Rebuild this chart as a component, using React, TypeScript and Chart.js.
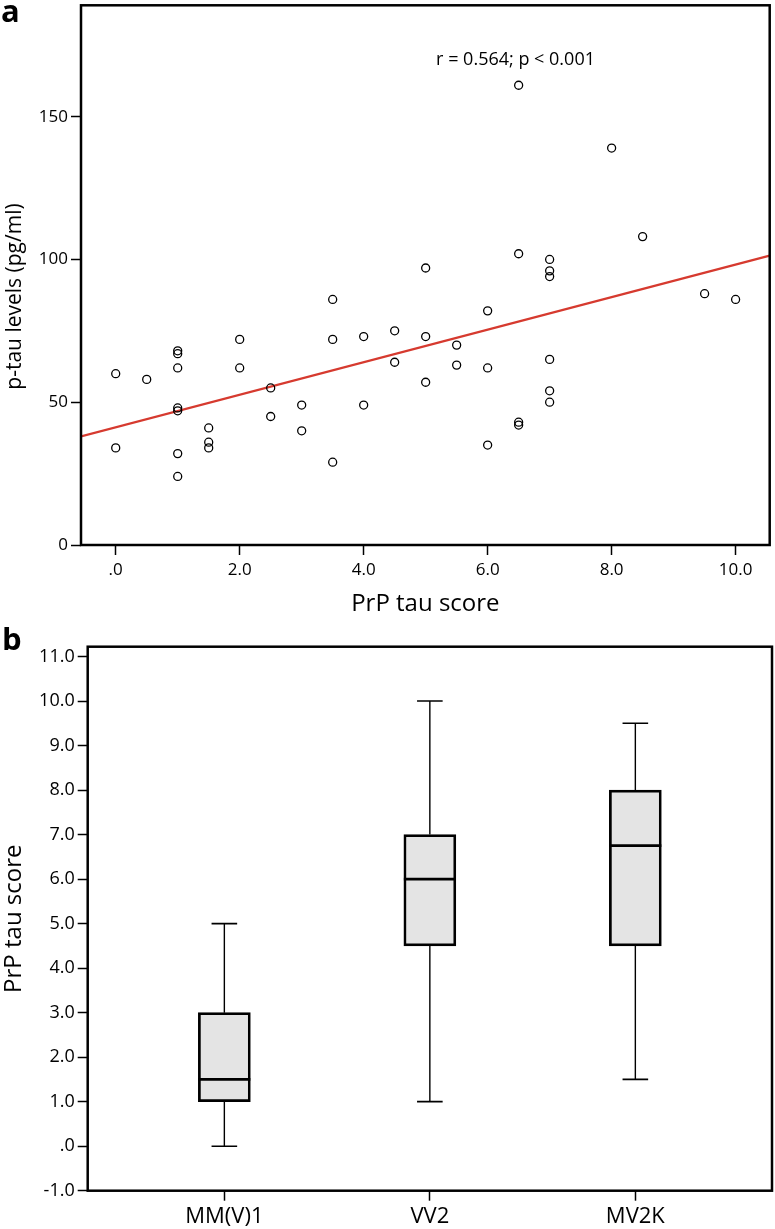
import React, { useEffect, useRef } from "react";
import { Chart, registerables } from "chart.js";

Chart.register(...registerables);

const FONT = "'Open Sans', 'Noto Sans', sans-serif";

// ---------- Panel a: scatter ----------
const prpTauScore = [
  0, 0, 0.5, 1, 1, 1, 1, 1, 1, 1, 1.5, 1.5, 1.5, 2, 2, 2.5, 2.5, 3, 3, 3.5, 3.5, 3.5,
  4, 4, 4.5, 4.5, 5, 5, 5, 5.5, 5.5, 6, 6, 6, 6.5, 6.5, 6.5, 6.5, 7, 7, 7, 7, 7, 7,
  8, 8.5, 9.5, 10,
];
const pTauLevels = [
  60, 34, 58, 68, 67, 62, 48, 47, 32, 24, 41, 36, 34, 72, 62, 55, 45, 49, 40, 86, 72, 29,
  73, 49, 75, 64, 97, 73, 57, 70, 63, 82, 62, 35, 161, 102, 43, 42, 100, 96, 94, 65, 54, 50,
  139, 108, 88, 86,
];
const fitIntercept = 41.2;
const fitSlope = 5.7;
const scatterXRange = [-0.56, 10.55];
const scatterYRange = [0, 189];
const scatterXTicks = [0, 2, 4, 6, 8, 10];
const scatterXTickLabels = [".0", "2.0", "4.0", "6.0", "8.0", "10.0"];
const scatterYTicks = [0, 50, 100, 150];
const scatterYTickLabels = ["0", "50", "100", "150"];
const scatterXTitle = "PrP tau score";
const scatterYTitle = "p-tau levels (pg/ml)";
const annotationText = "r = 0.564; p < 0.001";
const annotationAt = [6.45, 168];

// ---------- Panel b: box plot ----------
const genotypes = ["MM(V)1", "VV2", "MV2K"];
const whiskerLow = [0, 1, 1.5];
const boxQ1 = [1, 4.5, 4.5];
const boxMedian = [1.5, 6, 6.75];
const boxQ3 = [3, 7, 8];
const whiskerHigh = [5, 10, 9.5];
const boxXRange = [-0.665, 2.665];
const boxYRange = [-1, 11.22];
const boxYTicks = [-1, 0, 1, 2, 3, 4, 5, 6, 7, 8, 9, 10, 11];
const boxYTickLabels = ["-1.0", ".0", "1.0", "2.0", "3.0", "4.0", "5.0", "6.0", "7.0", "8.0", "9.0", "10.0", "11.0"];
const boxYTitle = "PrP tau score";

const tickGrid = {
  display: true,
  drawOnChartArea: false,
  drawTicks: true,
  tickLength: 10,
  tickWidth: 1.5,
  tickColor: "#000",
};

function zeroPad(s: any) {
  s.paddingTop = 0;
  s.paddingBottom = 0;
  s.paddingLeft = 0;
  s.paddingRight = 0;
}

const scatterDecor = {
  id: "scatterDecor",
  afterDraw(chart: any) {
    const { ctx, chartArea, scales } = chart;
    const { left, top, right, bottom } = chartArea;
    ctx.save();
    ctx.strokeStyle = "#000";
    ctx.lineWidth = 2.5;
    ctx.strokeRect(left, top, right - left, bottom - top);
    ctx.fillStyle = "#000";
    ctx.textBaseline = "alphabetic";
    ctx.textAlign = "center";
    ctx.font = `18px ${FONT}`;
    ctx.fillText(
      annotationText,
      scales.x.getPixelForValue(annotationAt[0]),
      scales.y.getPixelForValue(annotationAt[1])
    );
    ctx.font = `24px ${FONT}`;
    ctx.fillText(scatterXTitle, (left + right) / 2, 611);
    ctx.save();
    ctx.translate(21, 296.5);
    ctx.rotate(-Math.PI / 2);
    ctx.font = `21px ${FONT}`;
    ctx.fillText(scatterYTitle, 0, 0);
    ctx.restore();
    ctx.textAlign = "left";
    ctx.font = `bold 31px ${FONT}`;
    ctx.fillText("a", 1, 22);
    ctx.restore();
  },
};

const boxDecor = {
  id: "boxDecor",
  afterDatasetsDraw(chart: any) {
    const { ctx, scales } = chart;
    const x = scales.x;
    const y = scales.y;
    ctx.save();
    ctx.strokeStyle = "#000";
    genotypes.forEach((_, i) => {
      const px = x.getPixelForValue(i);
      ctx.lineWidth = 1.4;
      ctx.beginPath();
      ctx.moveTo(px, y.getPixelForValue(boxQ3[i]));
      ctx.lineTo(px, y.getPixelForValue(whiskerHigh[i]));
      ctx.moveTo(px, y.getPixelForValue(boxQ1[i]));
      ctx.lineTo(px, y.getPixelForValue(whiskerLow[i]));
      ctx.stroke();
      ctx.lineWidth = 1.6;
      ctx.beginPath();
      ctx.moveTo(px - 12.8, y.getPixelForValue(whiskerHigh[i]));
      ctx.lineTo(px + 12.8, y.getPixelForValue(whiskerHigh[i]));
      ctx.moveTo(px - 12.8, y.getPixelForValue(whiskerLow[i]));
      ctx.lineTo(px + 12.8, y.getPixelForValue(whiskerLow[i]));
      ctx.stroke();
      ctx.lineWidth = 2.7;
      ctx.beginPath();
      ctx.moveTo(px - 26, y.getPixelForValue(boxMedian[i]));
      ctx.lineTo(px + 26, y.getPixelForValue(boxMedian[i]));
      ctx.stroke();
    });
    ctx.restore();
  },
  afterDraw(chart: any) {
    const { ctx, chartArea } = chart;
    const { left, top, right, bottom } = chartArea;
    ctx.save();
    ctx.strokeStyle = "#000";
    ctx.lineWidth = 2.5;
    ctx.strokeRect(left, top, right - left, bottom - top);
    ctx.fillStyle = "#000";
    ctx.textBaseline = "alphabetic";
    ctx.textAlign = "center";
    ctx.save();
    ctx.translate(21, (top + bottom) / 2);
    ctx.rotate(-Math.PI / 2);
    ctx.font = `24px ${FONT}`;
    ctx.fillText(boxYTitle, 0, 0);
    ctx.restore();
    ctx.textAlign = "left";
    ctx.font = `bold 31px ${FONT}`;
    ctx.fillText("b", 2, 35);
    ctx.restore();
  },
};

export default function App() {
  const topRef = useRef<HTMLCanvasElement | null>(null);
  const botRef = useRef<HTMLCanvasElement | null>(null);

  useEffect(() => {
    Chart.defaults.font.family = FONT;
    Chart.defaults.color = "#000";

    const scatterPoints = prpTauScore.map((v, i) => ({ x: v, y: pTauLevels[i] }));
    const fitLine = scatterXRange.map((v) => ({ x: v, y: fitIntercept + fitSlope * v }));

    const top = new Chart(topRef.current as HTMLCanvasElement, {
      type: "scatter",
      data: {
        datasets: [
          {
            type: "line",
            data: fitLine,
            borderColor: "#d63a2f",
            borderWidth: 2.2,
            pointRadius: 0,
            fill: false,
            order: 2,
          } as any,
          {
            type: "scatter",
            data: scatterPoints,
            pointRadius: 4,
            borderWidth: 1.3,
            borderColor: "#000",
            backgroundColor: "rgba(0,0,0,0)",
            order: 1,
          } as any,
        ],
      },
      options: {
        animation: false,
        responsive: false,
        events: [],
        layout: { padding: { left: 0, top: 2, right: 3, bottom: 0 } },
        plugins: { legend: { display: false }, tooltip: { enabled: false } },
        scales: {
          x: {
            type: "linear",
            min: scatterXRange[0],
            max: scatterXRange[1],
            afterBuildTicks: (s: any) => {
              s.ticks = scatterXTicks.map((v) => ({ value: v }));
            },
            afterFit: (s: any) => {
              s.height = 70;
              zeroPad(s);
            },
            ticks: {
              callback: (_v: any, i: number) => scatterXTickLabels[i],
              font: { size: 17 },
              color: "#000",
              padding: 5,
              maxRotation: 0,
              autoSkip: false,
            },
            grid: tickGrid,
            border: { display: false },
          },
          y: {
            type: "linear",
            min: scatterYRange[0],
            max: scatterYRange[1],
            afterBuildTicks: (s: any) => {
              s.ticks = scatterYTicks.map((v) => ({ value: v }));
            },
            afterFit: (s: any) => {
              s.width = 81;
              zeroPad(s);
            },
            ticks: {
              callback: (_v: any, i: number) => scatterYTickLabels[i],
              font: { size: 17 },
              color: "#000",
              padding: 3,
              autoSkip: false,
            },
            grid: tickGrid,
            border: { display: false },
          },
        },
      } as any,
      plugins: [scatterDecor],
    });

    const bot = new Chart(botRef.current as HTMLCanvasElement, {
      type: "bar",
      data: {
        datasets: [
          {
            data: genotypes.map((_, i) => ({ x: i, y: [boxQ1[i], boxQ3[i]] })),
            backgroundColor: "#e4e4e4",
            borderColor: "#000",
            borderWidth: 2.7,
            borderSkipped: false,
            barThickness: 52,
          } as any,
        ],
      },
      options: {
        animation: false,
        responsive: false,
        events: [],
        layout: { padding: { left: 0, top: 31.7, right: 3, bottom: 0 } },
        plugins: { legend: { display: false }, tooltip: { enabled: false } },
        scales: {
          x: {
            type: "linear",
            offset: false,
            min: boxXRange[0],
            max: boxXRange[1],
            afterBuildTicks: (s: any) => {
              s.ticks = genotypes.map((_, i) => ({ value: i }));
            },
            afterFit: (s: any) => {
              s.height = 38.3;
              zeroPad(s);
            },
            ticks: {
              callback: (_v: any, i: number) => genotypes[i],
              font: { size: 22 },
              color: "#000",
              padding: 3,
              maxRotation: 0,
              autoSkip: false,
            },
            grid: { ...tickGrid, offset: false },
            border: { display: false },
          },
          y: {
            type: "linear",
            min: boxYRange[0],
            max: boxYRange[1],
            afterBuildTicks: (s: any) => {
              s.ticks = boxYTicks.map((v) => ({ value: v }));
            },
            afterFit: (s: any) => {
              s.width = 87.7;
              zeroPad(s);
            },
            ticks: {
              callback: (_v: any, i: number) => boxYTickLabels[i],
              font: { size: 18 },
              color: "#000",
              padding: 3,
              autoSkip: false,
            },
            grid: tickGrid,
            border: { display: false },
          },
        },
      } as any,
      plugins: [boxDecor],
    });

    return () => {
      top.destroy();
      bot.destroy();
    };
  }, []);

  return (
    <div style={{ position: "absolute", left: 0, top: 0, width: 775, height: 1229, background: "#fff" }}>
      <canvas
        ref={topRef}
        width={775}
        height={615}
        style={{ position: "absolute", left: 0, top: 0, width: 775, height: 615, display: "block" }}
      />
      <canvas
        ref={botRef}
        width={775}
        height={614}
        style={{ position: "absolute", left: 0, top: 615, width: 775, height: 614, display: "block" }}
      />
    </div>
  );
}
